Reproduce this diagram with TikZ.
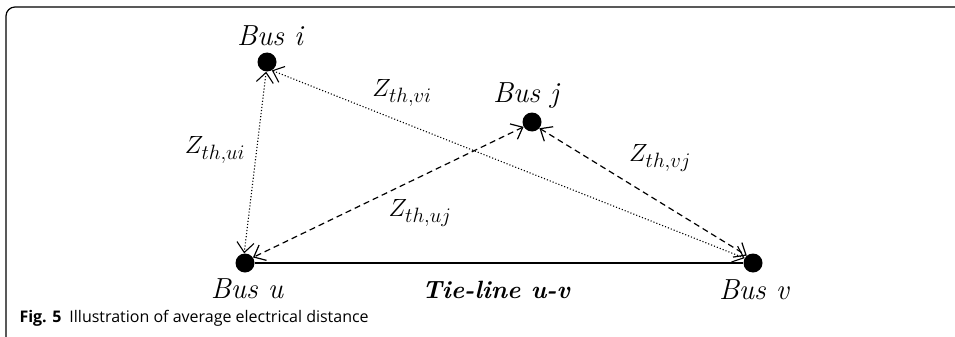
\documentclass[tikz,border=0pt]{standalone}
\usepackage{fontspec}
\newfontfamily\capfont{Open Sans}
\usetikzlibrary{arrows.meta}

\tikzset{
    bus/.style={circle, fill=black, inner sep=0pt, minimum size=19pt},
    buslabel/.style={font=\fontsize{29}{32}\selectfont\itshape},
    zlabel/.style={font=\fontsize{30}{32}\selectfont},
    zdot/.style={dotted, line width=1.1pt, {Straight Barb[length=10pt,width=17pt]}-{Straight Barb[length=10pt,width=17pt]}},
    zdash/.style={dash pattern=on 6pt off 4pt, line width=1.2pt, {Straight Barb[length=10pt,width=17pt]}-{Straight Barb[length=10pt,width=17pt]}}
}

\begin{document}
\begin{tikzpicture}[x=1pt, y=-1pt]
    \useasboundingbox (0,0) rectangle (955,337);
    \draw[line width=1.2pt, rounded corners=9pt] (6,337) -- (6,7) -- (955,7);

    \node[bus] (i) at (267,62) {};
    \node[bus] (j) at (532,122) {};
    \node[bus] (u) at (245,263) {};
    \node[bus] (v) at (753,263) {};

    \node[buslabel] (li) at (270,36) {Bus i};
    \node[buslabel] (lj) at (526,96) {Bus j};
    \node[buslabel] (lu) at (247,289) {Bus u};
    \node[buslabel] (lv) at (754,290) {Bus v};

    \draw[line width=2.4pt] (u) -- (v);
    \node[font=\fontsize{25}{28}\selectfont\bfseries\itshape] (tie) at (496,290) {Tie-line u-v};

    \draw[zdot] (i.265) -- (u.95);
    \draw[zdot] (i.-60) -- (v.150);
    \draw[zdash] (j.-150) -- (u.35);
    \draw[zdash] (j.-40) -- (v.130);

    \node[zlabel] (zui) at (215,150) {$Z_{th,ui}$};
    \node[zlabel] (zvi) at (402,93) {$Z_{th,vi}$};
    \node[zlabel] (zuj) at (420,213) {$Z_{th,uj}$};
    \node[zlabel] (zvj) at (660,158) {$Z_{th,vj}$};

    \node[anchor=west, font=\capfont\fontsize{16}{18}\selectfont] (cap) at (16,318)
        {\textbf{Fig. 5}\enspace Illustration of average electrical distance};
\end{tikzpicture}
\end{document}
